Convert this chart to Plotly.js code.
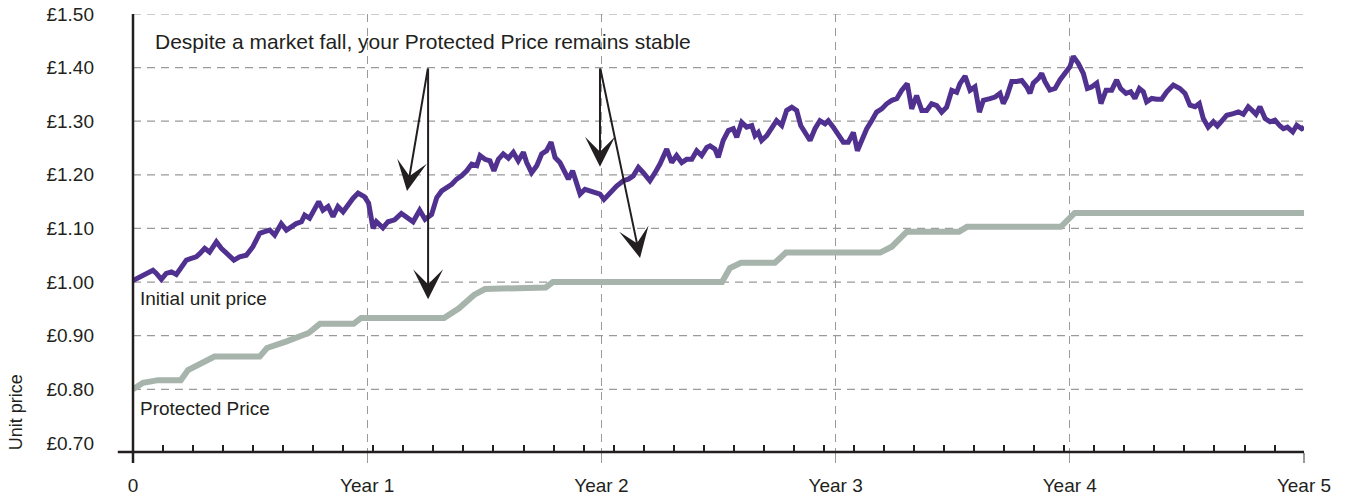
<!DOCTYPE html>
<html>
<head>
<meta charset="utf-8">
<script src="https://cdn.plot.ly/plotly-3.0.1.min.js"></script>
<style>html,body{margin:0;padding:0;background:#fff;}#chart{width:1346px;height:499px;}</style>
</head>
<body>
<div id="chart"></div>
<script>
// Unit price (purple) – time in years, value in £
const unitYears = [0.000,0.021,0.050,0.085,0.100,0.121,0.142,0.164,0.185,0.206,0.228,0.249,0.270,0.285,0.306,0.327,0.356,0.377,0.399,0.431,0.455,0.484,0.512,0.541,0.562,0.584,0.605,0.633,0.655,0.676,0.697,0.719,0.733,0.754,0.769,0.793,0.811,0.833,0.854,0.875,0.897,0.918,0.939,0.961,0.989,1.006,1.025,1.039,1.067,1.089,1.117,1.146,1.174,1.196,1.224,
1.247,1.275,1.297,1.318,1.339,1.361,1.382,1.403,1.425,1.446,1.468,1.482,1.503,1.524,1.541,1.560,1.581,1.603,1.624,1.645,1.667,1.681,1.702,1.724,1.745,1.766,1.785,1.802,1.823,1.840,1.859,1.877,1.894,1.909,1.930,1.951,1.973,1.994,2.011,2.037,2.065,2.094,2.115,2.136,2.158,2.179,2.207,2.229,2.250,2.279,2.300,2.321,2.343,2.364,2.386,2.407,2.428,2.450,
2.464,2.485,2.499,2.520,2.542,2.563,2.578,2.599,2.620,2.642,2.656,2.670,2.684,2.706,2.727,2.748,2.770,2.791,2.813,2.834,2.851,2.869,2.891,2.912,2.933,2.955,2.969,2.990,3.012,3.033,3.054,3.076,3.093,3.111,3.133,3.154,3.175,3.197,3.218,3.240,3.261,3.282,3.306,3.325,3.346,3.368,3.389,3.410,3.432,3.453,3.474,3.496,3.517,3.531,3.553,3.574,3.595,3.614,3.631,3.659,3.681,
3.702,3.716,3.731,3.752,3.773,3.795,3.816,3.830,3.844,3.866,3.880,3.894,3.915,3.937,3.958,3.980,4.001,4.015,4.036,4.058,4.075,4.093,4.115,4.133,4.155,4.179,4.200,4.217,4.240,4.260,4.278,4.297,4.314,4.328,4.350,4.371,4.392,4.414,4.442,4.470,4.492,4.513,4.535,4.553,4.570,4.591,4.613,4.630,4.649,4.670,4.698,4.720,4.741,4.762,4.777,4.795,4.812,4.834,4.855,4.876,4.898,4.912,4.929,4.952,4.969,4.990,5.000];
const unitPrice = [1.003,1.0075,1.014,1.022,1.016,1.005,1.016,1.019,1.014,1.028,1.041,1.044,1.047,1.053,1.063,1.056,1.075,1.063,1.053,1.041,1.047,1.050,1.066,1.091,1.094,1.097,1.0875,1.109,1.097,1.103,1.109,1.1125,1.125,1.119,1.131,1.150,1.134,1.141,1.122,1.141,1.131,1.144,1.156,1.166,1.159,1.147,1.100,1.1125,1.101,1.1125,1.116,1.128,1.119,1.1125,1.134,
1.117,1.126,1.1575,1.170,1.175,1.1825,1.192,1.198,1.2075,1.220,1.217,1.236,1.229,1.226,1.2075,1.229,1.239,1.231,1.242,1.226,1.242,1.223,1.204,1.217,1.239,1.245,1.261,1.2325,1.223,1.2075,1.192,1.2075,1.1825,1.164,1.173,1.170,1.167,1.164,1.154,1.167,1.179,1.189,1.192,1.198,1.214,1.204,1.189,1.204,1.220,1.248,1.223,1.236,1.223,1.229,1.229,1.245,1.236,1.251,
1.254,1.248,1.2325,1.264,1.2825,1.286,1.270,1.298,1.289,1.292,1.273,1.279,1.264,1.273,1.286,1.301,1.292,1.320,1.326,1.320,1.292,1.279,1.264,1.286,1.301,1.295,1.301,1.289,1.273,1.261,1.261,1.279,1.245,1.264,1.286,1.301,1.317,1.323,1.3325,1.339,1.342,1.3575,1.370,1.323,1.348,1.320,1.320,1.3325,1.329,1.317,1.326,1.3575,1.354,1.370,1.384,1.3575,1.364,1.317,1.339,1.342,1.345,
1.352,1.333,1.346,1.374,1.374,1.376,1.364,1.352,1.371,1.380,1.389,1.374,1.358,1.361,1.377,1.389,1.402,1.421,1.408,1.389,1.361,1.364,1.371,1.333,1.358,1.358,1.377,1.361,1.352,1.355,1.3425,1.361,1.355,1.336,1.3425,1.341,1.341,1.355,1.3675,1.361,1.352,1.330,1.327,1.333,1.305,1.289,1.299,1.291,1.302,1.311,1.314,1.3175,1.313,1.327,1.321,1.313,1.327,1.305,1.299,1.302,1.291,1.286,1.289,1.280,1.2925,1.286,1.289];

// Protected price (grey)
const protYears = [0.000,0.043,0.107,0.204,0.235,0.299,0.348,0.541,0.572,0.653,0.750,0.798,0.942,0.974,1.328,1.392,1.456,1.503,1.648,1.762,1.793,2.515,2.549,2.596,2.741,2.788,3.190,3.240,3.304,3.527,3.561,3.962,4.021,5.000];
const protPrice = [0.800,0.812,0.817,0.817,0.836,0.849,0.861,0.861,0.877,0.889,0.905,0.922,0.922,0.933,0.933,0.951,0.976,0.987,0.990,0.990,1.000,1.000,1.026,1.036,1.036,1.055,1.055,1.066,1.094,1.094,1.103,1.103,1.129,1.129];

// Axis ticks
const xTickVals = [0,1,2,3,4,5];
const xTickText = ['0','Year 1','Year 2','Year 3','Year 4','Year 5'];
const yTickVals = [0.70,0.80,0.90,1.00,1.10,1.20,1.30,1.40,1.50];
const yTickText = ['£0.70','£0.80','£0.90','£1.00','£1.10','£1.20','£1.30','£1.40','£1.50'];
const yGridVals = [0.80,0.90,1.00,1.10,1.20,1.30,1.40,1.50];

// Text labels
const headline = 'Despite a market fall, your Protected Price remains stable';
const labelInitial = 'Initial unit price';
const labelProtected = 'Protected Price';
const yTitle = 'Unit price';

// Arrows: [tailX, tailY, tipX, tipY]
const arrows = [
  [1.260, 1.401, 1.170, 1.170],
  [1.260, 1.401, 1.260, 0.968],
  [1.994, 1.401, 1.994, 1.215],
  [1.994, 1.401, 2.165, 1.045]
];

const FONT = 'Liberation Sans, Arial, sans-serif';
const TXT = '#231f20';

const traces = [
  {x: protYears, y: protPrice, type: 'scatter', mode: 'lines',
   line: {color: '#a6b4ac', width: 6}, hoverinfo: 'skip'},
  {x: unitYears, y: unitPrice, type: 'scatter', mode: 'lines',
   line: {color: '#51318f', width: 5}, hoverinfo: 'skip'}
];

const shapes = yGridVals.map(v => ({type: 'line', xref: 'paper', x0: 0, x1: 1, yref: 'y', y0: v, y1: v,
  line: {color: '#9a9a9a', width: 1.2, dash: '8px,6px'}, layer: 'below'}));
shapes.push({type: 'line', xref: 'paper', x0: -0.013, x1: 1, yref: 'paper', y0: 0, y1: 0,
  line: {color: TXT, width: 2.5}});
shapes.push({type: 'line', xref: 'paper', x0: 0, x1: 0, yref: 'paper', y0: -0.025, y1: 1,
  line: {color: TXT, width: 2.5}});

const annotations = [
  {xref: 'x', yref: 'y', x: 0.085, y: 1.448, text: headline, showarrow: false, xanchor: 'left', yanchor: 'middle',
   font: {family: FONT, size: 21, color: TXT}},
  {xref: 'x', yref: 'y', x: 0.021, y: 0.970, text: labelInitial, showarrow: false, xanchor: 'left', yanchor: 'middle',
   font: {family: FONT, size: 19, color: TXT}},
  {xref: 'x', yref: 'y', x: 0.021, y: 0.765, text: labelProtected, showarrow: false, xanchor: 'left', yanchor: 'middle',
   font: {family: FONT, size: 19, color: TXT}},
  {xref: 'paper', yref: 'y', x: -0.0999, y: 0.757, text: yTitle, showarrow: false, textangle: -90,
   xanchor: 'center', yanchor: 'middle', font: {family: FONT, size: 18, color: TXT}}
];
arrows.forEach(a => annotations.push({
  xref: 'x', yref: 'y', axref: 'x', ayref: 'y', x: a[2], y: a[3], ax: a[0], ay: a[1], text: '',
  showarrow: true, arrowhead: 3, arrowsize: 2.5, arrowwidth: 2, arrowcolor: TXT, standoff: 0, startstandoff: 0
}));

const layout = {
  width: 1346, height: 499,
  margin: {l: 133, r: 42, t: 14, b: 47, pad: 0},
  paper_bgcolor: '#fff', plot_bgcolor: '#fff',
  showlegend: false,
  font: {family: FONT, size: 18, color: TXT},
  xaxis: {
    range: [0, 5], tickmode: 'array', tickvals: xTickVals, ticktext: xTickText,
    showgrid: true, gridcolor: '#9a9a9a', gridwidth: 1.2, griddash: '8px,6px',
    ticks: 'outside', ticklen: 10, tickwidth: 1.2, tickcolor: '#9a9a9a',
    ticklabelstandoff: 6,
    zeroline: false, showline: false,
    tickfont: {family: FONT, size: 19, color: TXT},
    minor: {tick0: 0, dtick: 0.12827, ticks: 'inside', ticklen: 7, tickwidth: 2, tickcolor: TXT, showgrid: false}
  },
  yaxis: {
    range: [0.683, 1.50], tickmode: 'array', tickvals: yTickVals, ticktext: yTickText,
    showgrid: false, zeroline: false, showline: false, ticks: '',
    ticklabelstandoff: 38,
    tickfont: {family: FONT, size: 19, color: TXT}
  },
  shapes: shapes,
  annotations: annotations
};

Plotly.newPlot('chart', traces, layout, {staticPlot: true, displayModeBar: false});
</script>
</body>
</html>
